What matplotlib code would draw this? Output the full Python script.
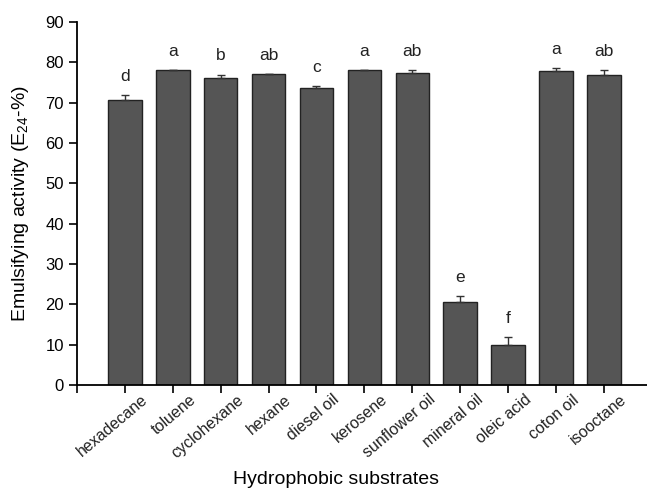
import matplotlib.pyplot as plt
import matplotlib
from matplotlib.transforms import ScaledTranslation

matplotlib.rcParams['font.family'] = ['Liberation Sans', 'DejaVu Sans']
matplotlib.rcParams['mathtext.fontset'] = 'custom'
matplotlib.rcParams['mathtext.rm'] = 'Liberation Sans'

# 数据
substrates = ['hexadecane', 'toluene', 'cyclohexane', 'hexane', 'diesel oil', 'kerosene',
              'sunflower oil', 'mineral oil', 'oleic acid', 'coton oil', 'isooctane']
values = [70.8, 78.0, 76.2, 77.2, 73.6, 78.0, 77.3, 20.5, 9.8, 77.8, 77.0]
errors = [1.2, 0.0, 0.8, 0.0, 0.6, 0.0, 0.8, 1.5, 2.1, 0.9, 1.2]
letters = ['d', 'a', 'b', 'ab', 'c', 'a', 'ab', 'e', 'f', 'a', 'ab']

fig = plt.figure(figsize=(6.47, 4.91), dpi=100)
ax = fig.add_axes([0.119, 0.216, 0.881, 0.739])

pos = list(range(1, len(substrates) + 1))
ax.bar(pos, values, width=0.7, color='#555555', edgecolor='#222222', linewidth=1.0,
       yerr=[[0] * len(errors), errors],
       error_kw=dict(ecolor='#333333', elinewidth=1.0, capsize=3, capthick=1.0))

# 字母标注
for x, v, e, t in zip(pos, values, errors, letters):
    ax.text(x, v + e + 4.6, t, ha='center', va='center', fontsize=12.5, color='#222222')

ax.set_xlim(0, 11.9)
ax.set_ylim(0, 90)
ax.set_yticks(range(0, 91, 10))
ax.set_xticks([0] + pos)
ax.set_xticklabels([])

# 斜放的x轴标签
label_tf = ax.get_xaxis_transform() + ScaledTranslation(0.16, -0.07, fig.dpi_scale_trans)
for x, name in zip(pos, substrates):
    ax.text(x, 0, name, transform=label_tf, rotation=40, ha='right', va='top',
            rotation_mode='anchor', fontsize=11.5, color='#222222')

ax.tick_params(axis='y', labelsize=12, direction='out', length=6, width=1.2)
ax.tick_params(axis='x', direction='out', length=6, width=1.2)

ax.spines['top'].set_visible(False)
ax.spines['right'].set_visible(False)
ax.spines['left'].set_linewidth(1.3)
ax.spines['bottom'].set_linewidth(1.3)

ax.set_ylabel('Emulsifying activity (E$_{24}$-%)', fontsize=14, labelpad=10)
ax.set_xlabel('Hydrophobic substrates', fontsize=14, va='center')
ax.xaxis.set_label_coords(0.454, -0.26)

plt.savefig('out.png', dpi=100)
